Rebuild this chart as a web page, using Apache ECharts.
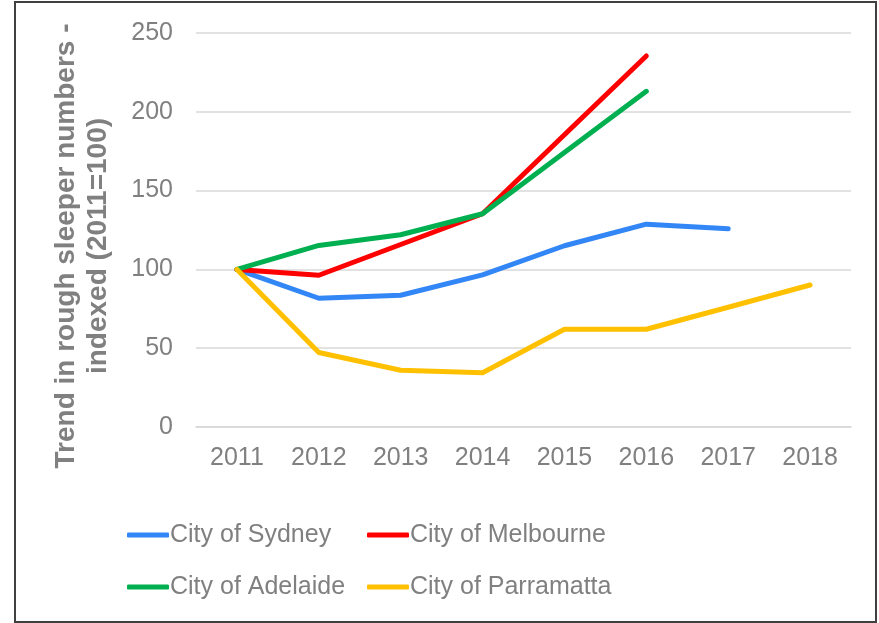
<!DOCTYPE html>
<html>
<head>
<meta charset="utf-8">
<script src="https://cdn.jsdelivr.net/npm/echarts@6/dist/echarts.min.js"></script>
<style>
  html, body { margin: 0; padding: 0; background: #fff; }
  #chart { width: 879px; height: 623px; }
</style>
</head>
<body>
<div id="chart"></div>
<script>
var years = ['2011', '2012', '2013', '2014', '2015', '2016', '2017', '2018'];
var sydney = [100, 81.7, 83.6, 96.5, 115, 128.7, 125.8, null];
var melbourne = [100, 96.3, 115.8, 135.3, 185.4, 235.4, null, null];
var adelaide = [100, 115.2, 122, 135.3, 174.2, 213, null, null];
var parramatta = [100, 47.3, 36, 34.4, 62, 62, 76, 90.1];
var seriesNames = ['City of Sydney', 'City of Melbourne', 'City of Adelaide', 'City of Parramatta'];
var colors = ['#3386F5', '#FF0000', '#00B050', '#FFC000'];

var gray = '#808080';
var font = 'Liberation Sans, Arial, sans-serif';

function makeLine(name, data, color) {
    return {
        name: name,
        type: 'line',
        data: data,
        showSymbol: false,
        symbol: 'none',
        connectNulls: false,
        lineStyle: {
            width: 5,
            color: color,
            cap: 'round',
            join: 'round'
        },
        itemStyle: { color: color }
    };
}

function makeLegend(left, names) {
    return {
        orient: 'vertical',
        left: left,
        top: 515,
        icon: 'roundRect',
        itemWidth: 42,
        itemHeight: 5,
        itemGap: 22,
        data: names,
        textStyle: { color: gray, fontSize: 25, fontFamily: font, lineHeight: 30, padding: [0, 0, 0, -4] }
    };
}

var myChart = echarts.init(document.getElementById('chart'));
var option = {
    backgroundColor: '#fff',
    animation: false,
    color: colors,
    grid: {
        left: 196,
        right: 28,
        top: 33,
        bottom: 196,
        outerBoundsMode: 'none'
    },
    legend: [
        makeLegend(122, [seriesNames[0], seriesNames[2]]),
        makeLegend(362, [seriesNames[1], seriesNames[3]])
    ],
    xAxis: {
        type: 'category',
        data: years,
        boundaryGap: true,
        axisLine: { lineStyle: { color: '#d9d9d9', width: 1.5 } },
        axisTick: { show: false },
        axisLabel: {
            color: gray,
            fontSize: 25,
            fontFamily: font,
            margin: 19
        }
    },
    yAxis: {
        type: 'value',
        min: 0,
        max: 250,
        interval: 50,
        name: 'Trend in rough sleeper numbers -\nindexed (2011=100)',
        nameLocation: 'middle',
        nameGap: 82,
        nameTextStyle: {
            color: gray,
            fontSize: 28,
            fontWeight: 'bold',
            fontFamily: font,
            lineHeight: 32,
            padding: [0, 32, 0, 0]
        },
        axisLine: { show: false },
        axisTick: { show: false },
        splitLine: { lineStyle: { color: '#d9d9d9', width: 1.5 } },
        axisLabel: {
            color: gray,
            fontSize: 25,
            fontFamily: font,
            margin: 23
        }
    },
    graphic: [{
        type: 'rect',
        shape: { x: 15, y: 2, width: 861, height: 620 },
        style: { fill: null, stroke: '#404040', lineWidth: 2 },
        silent: true
    }],
    series: [
        makeLine(seriesNames[0], sydney, colors[0]),
        makeLine(seriesNames[1], melbourne, colors[1]),
        makeLine(seriesNames[2], adelaide, colors[2]),
        makeLine(seriesNames[3], parramatta, colors[3])
    ]
};
myChart.setOption(option);
window.onresize = myChart.resize;
</script>
</body>
</html>
